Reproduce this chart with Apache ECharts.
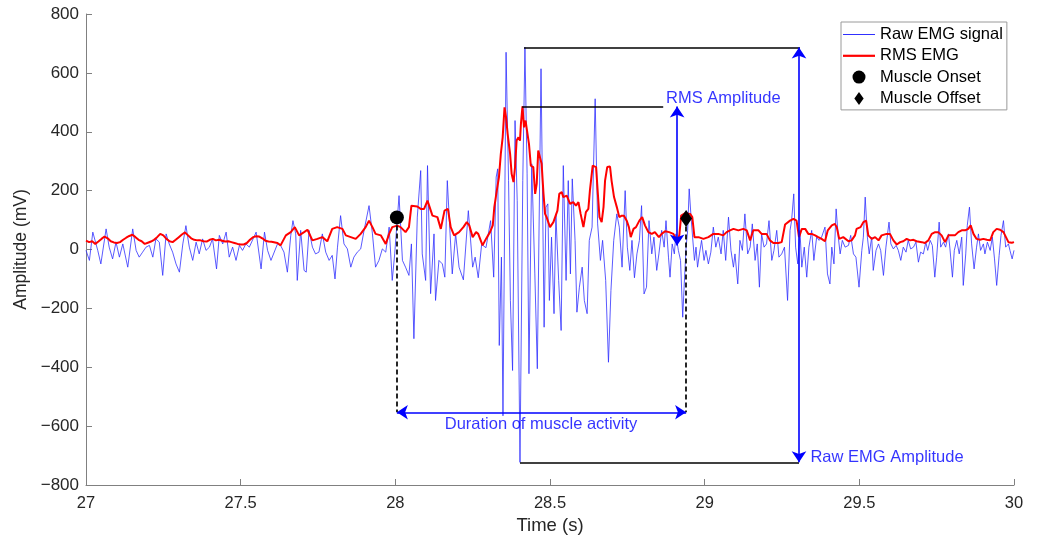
<!DOCTYPE html>
<html><head><meta charset="utf-8">
<script src="https://cdn.jsdelivr.net/npm/echarts/dist/echarts.min.js"></script>
<style>html,body{margin:0;padding:0;background:#fff}#c{width:1037px;height:535px}</style>
</head><body><div id="c"></div>
<script>
// ---------- DATA ----------
const xTickLabels = [27, 27.5, 28, 28.5, 29, 29.5, 30];
const yTickLabels = [-800, -600, -400, -200, 0, 200, 400, 600, 800];

// Raw EMG signal [time s, amplitude mV]
const rawEmg = [
[27.000,-3],[27.011,-37],[27.022,59],[27.038,-3],[27.048,-49],[27.065,70],[27.075,8],[27.086,-32],[27.097,25],[27.108,-26],[27.119,19],[27.135,-60],[27.151,70],[27.162,-3],[27.172,-26],[27.183,-9],[27.194,8],[27.205,14],[27.216,-26],[27.226,36],[27.237,25],[27.248,-88],[27.259,53],[27.269,19],[27.280,-9],[27.291,-49],[27.302,-77],[27.313,19],[27.323,81],[27.334,8],[27.345,-37],[27.356,25],[27.366,-15],[27.377,36],[27.388,-3],[27.399,8],[27.409,36],[27.422,-66],[27.431,48],[27.442,19],[27.453,59],[27.463,-26],[27.474,8],[27.485,-37],[27.496,14],[27.506,-3],[27.517,19],[27.528,8],[27.550,59],[27.566,-66],[27.577,59],[27.587,-3],[27.598,-37],
[27.619,19],[27.629,14],[27.640,-9],[27.651,-77],[27.662,48],[27.669,98],[27.678,53],[27.683,-105],[27.694,65],[27.705,-71],[27.712,-77],[27.721,65],[27.732,8],[27.742,-15],[27.753,-9],[27.764,53],[27.775,-9],[27.786,-37],[27.796,-20],[27.805,-100],[27.813,8],[27.823,115],[27.834,19],[27.845,2],[27.856,-60],[27.866,-26],[27.877,-9],[27.888,2],[27.899,65],[27.915,149],[27.926,53],[27.936,-60],[27.947,-37],[27.958,2],[27.969,-9],[27.980,76],[27.990,-105],[27.998,-15],[28.012,183],[28.023,-37],[28.033,-60],[28.044,-88],[28.052,19],[28.060,-303],[28.071,110],[28.082,268],[28.087,-15],[28.098,-105],[28.104,285],[28.114,-150],[28.125,53],[28.130,-173],[28.141,-37],[28.152,-49],[28.160,-94],[28.168,234],[28.177,53],[28.184,-83],[28.195,53],[28.206,-60],
[28.220,-103],[28.236,132],[28.250,-60],[28.258,-26],[28.268,-96],[28.279,17],[28.293,6],[28.308,98],[28.318,-94],[28.326,246],[28.331,274],[28.336,-326],[28.343,-26],[28.348,-565],[28.358,670],[28.366,234],[28.372,-173],[28.379,-411],[28.387,438],[28.394,166],[28.403,-723],[28.412,234],[28.419,687],[28.426,257],[28.432,-422],[28.441,291],[28.451,-83],[28.459,-405],[28.471,614],[28.481,-264],[28.487,144],[28.493,155],[28.498,-173],[28.505,42],[28.513,-218],[28.519,121],[28.528,-105],[28.536,-275],[28.543,285],[28.552,-105],[28.559,234],[28.566,-83],[28.572,240],[28.581,31],[28.587,-213],[28.595,-128],[28.604,-60],[28.611,-173],[28.620,-218],[28.627,31],[28.636,76],[28.646,512],[28.654,87],[28.663,-37],[28.670,31],[28.680,-105],[28.689,-383],[28.697,-139],[28.706,31],[28.716,121],[28.724,76],[28.733,-60],[28.743,200],[28.750,8],[28.758,-71],[28.765,31],[28.773,-96],[28.781,-15],[28.789,31],[28.796,149],[28.804,-151],
[28.812,-128],[28.820,98],[28.829,-15],[28.836,42],[28.845,-71],[28.852,-15],[28.861,65],[28.869,8],[28.875,98],[28.883,-26],[28.888,-94],[28.895,19],[28.902,-15],[28.907,53],[28.915,-3],[28.922,-37],[28.929,-230],[28.934,-117],[28.940,8],[28.945,65],[28.950,206],[28.956,110],[28.961,42],[28.967,-37],[28.972,8],[28.977,-60],[28.983,-15],[28.990,31],[28.998,-37],[29.004,-3],[29.012,-49],[29.020,-9],[29.028,76],[29.036,8],[29.044,42],[29.053,-15],[29.060,65],[29.068,-37],[29.077,110],[29.085,-3],[29.093,-60],[29.098,-15],[29.107,-117],[29.114,31],[29.122,-3],[29.130,121],[29.139,-15],[29.147,8],[29.154,87],[29.163,-37],[29.170,19],[29.177,-128],[29.184,53],[29.192,8],[29.200,19],[29.208,98],[29.217,-37],[29.224,-3],[29.233,65],[29.240,-26],[29.249,-15],[29.258,8],[29.268,-173],[29.276,65],[29.281,98],[29.288,189],[29.294,8],[29.301,-49],[29.308,65],[29.314,-60],[29.322,8],[29.330,-94],[29.337,8],[29.346,65],[29.353,-37],[29.362,42],[29.370,31],[29.378,42],[29.389,76],[29.397,-83],[29.405,-117],[29.411,8],[29.418,-49],
[29.425,138],[29.432,42],[29.438,-15],[29.445,31],[29.454,8],[29.465,14],[29.472,48],[29.481,-15],[29.489,-26],[29.499,-128],[29.508,-3],[29.513,42],[29.519,178],[29.526,42],[29.532,-15],[29.540,42],[29.545,-71],[29.554,-3],[29.562,19],[29.569,-3],[29.578,-88],[29.586,8],[29.596,93],[29.602,19],[29.610,2],[29.619,14],[29.626,-3],[29.634,-37],[29.642,8],[29.651,-9],[29.658,31],[29.666,2],[29.675,8],[29.683,25],[29.691,-43],[29.698,-9],[29.707,-15],[29.715,25],[29.721,-3],[29.729,31],[29.736,14],[29.744,-94],[29.750,-26],[29.758,93],[29.763,8],[29.772,25],[29.779,8],[29.788,53],[29.793,2],[29.801,-94],[29.807,-3],[29.815,31],[29.823,-15],[29.831,42],[29.836,-122],[29.844,-15],[29.849,82],[29.856,144],[29.863,19],[29.871,-66],[29.879,8],[29.885,53],[29.892,-3],[29.901,19],[29.906,-15],[29.914,25],[29.923,-3],[29.930,42],[29.937,-32],[29.944,-122],[29.952,-20],[29.958,48],[29.966,98],[29.973,8],[29.982,19],[29.987,-3],[29.994,-32],[30.000,-3]
];

// RMS EMG envelope [time s, amplitude mV]
const rmsEmg = [
[27.00,30],[27.01,25],[27.02,28],[27.03,19],[27.04,27],[27.05,36],[27.06,44],[27.07,38],[27.08,28],[27.09,24],[27.10,22],[27.11,25],[27.12,33],[27.13,40],[27.14,46],[27.15,50],[27.16,42],[27.17,33],[27.18,28],[27.19,19],[27.20,23],[27.21,27],[27.22,33],[27.23,42],[27.24,53],[27.25,48],[27.26,36],[27.27,28],[27.28,25],[27.29,33],[27.30,42],[27.31,51],[27.32,58],[27.33,48],[27.34,38],[27.35,33],[27.36,31],[27.37,31],[27.38,28],[27.39,27],[27.40,33],[27.41,36],[27.42,31],[27.43,33],[27.44,30],[27.45,27],[27.46,28],[27.47,25],[27.48,22],[27.49,19],[27.50,17],[27.51,17],[27.52,22],[27.53,33],[27.54,42],[27.55,45],[27.56,44],[27.57,38],[27.58,30],[27.59,27],[27.60,26],
[27.619,22],[27.629,14],[27.646,48],[27.662,59],[27.675,76],[27.689,48],[27.705,59],[27.716,67],[27.732,31],[27.748,36],[27.764,42],[27.780,28],[27.796,70],[27.812,76],[27.829,70],[27.840,48],[27.856,42],[27.872,36],[27.888,53],[27.904,76],[27.915,98],[27.926,76],[27.936,53],[27.953,48],[27.969,19],[27.980,53],[27.990,76],[28.006,81],[28.017,76],[28.033,59],[28.044,76],[28.052,149],[28.071,146],[28.082,138],[28.093,138],[28.104,166],[28.109,172],[28.120,115],[28.136,110],[28.147,70],[28.159,132],[28.170,138],[28.179,76],[28.190,48],[28.206,59],
[28.220,76],[28.231,93],[28.239,82],[28.250,42],[28.261,59],[28.268,53],[28.282,14],[28.293,36],[28.306,59],[28.315,82],[28.320,144],[28.328,200],[28.335,246],[28.341,325],[28.347,381],[28.353,483],[28.358,449],[28.363,393],[28.371,325],[28.376,257],[28.382,229],[28.387,280],[28.392,370],[28.398,381],[28.403,370],[28.406,427],[28.411,486],[28.416,415],[28.421,438],[28.427,444],[28.432,359],[28.438,285],[28.446,280],[28.452,189],[28.457,223],[28.462,336],[28.468,342],[28.473,291],[28.479,189],[28.484,121],[28.489,110],[28.500,76],[28.511,93],[28.524,132],[28.530,189],[28.538,195],[28.543,178],[28.554,183],[28.565,155],[28.575,161],[28.584,149],[28.592,161],[28.599,121],[28.608,76],[28.616,127],[28.624,138],[28.629,200],[28.638,285],[28.649,280],[28.654,200],[28.660,110],[28.667,93],[28.673,144],[28.678,234],[28.685,280],[28.694,282],[28.699,234],[28.707,178],[28.716,144],[28.724,110],[28.732,115],[28.739,115],[28.748,98],[28.755,76],[28.761,42],[28.770,70],[28.778,76],[28.789,98],[28.798,110],
[28.807,82],[28.818,59],[28.829,53],[28.839,59],[28.852,42],[28.861,53],[28.872,62],[28.885,59],[28.899,53],[28.910,31],[28.918,48],[28.924,115],[28.936,123],[28.953,121],[28.960,110],[28.967,42],[28.980,42],[28.996,36],[29.012,42],[29.028,53],[29.044,53],[29.060,48],[29.071,59],[29.082,65],[29.093,70],[29.109,65],[29.125,70],[29.136,65],[29.147,31],[29.157,65],[29.174,65],[29.184,53],[29.200,53],[29.211,31],[29.222,22],[29.238,22],[29.249,25],[29.260,85],[29.276,98],[29.287,104],[29.297,98],[29.305,42],[29.314,70],[29.325,70],[29.335,53],[29.346,53],[29.357,48],[29.367,42],[29.378,36],[29.389,28],[29.398,65],[29.411,82],[29.421,87],
[29.427,76],[29.435,36],[29.448,42],[29.465,28],[29.475,31],[29.486,48],[29.491,70],[29.504,76],[29.513,93],[29.522,98],[29.529,48],[29.540,36],[29.551,42],[29.562,31],[29.572,48],[29.588,53],[29.599,53],[29.610,31],[29.621,17],[29.632,25],[29.642,28],[29.653,36],[29.664,31],[29.675,33],[29.685,28],[29.702,25],[29.712,22],[29.723,31],[29.734,53],[29.745,59],[29.755,59],[29.766,48],[29.777,25],[29.788,48],[29.799,48],[29.809,48],[29.820,59],[29.831,65],[29.842,65],[29.852,70],[29.860,82],[29.869,53],[29.879,36],[29.890,33],[29.901,36],[29.912,33],[29.923,31],[29.933,59],[29.944,70],[29.955,67],[29.966,59],[29.974,42],[29.982,25],[29.993,23],[30.000,25]
];

const muscleOnset = [[28.005, 109]];
const muscleOffset = [[28.940, 105]];

// annotation segments, in data units
const blackLines = [
  [[28.410, 486], [28.866, 486]],
  [[28.416, 686], [29.308, 686]],
  [[28.403, -723], [29.305, -723]]
];
const blueArrows = [
  [[28.911, 14], [28.911, 486]],
  [[29.305, -723], [29.305, 686]],
  [[28.005, -553], [28.940, -553]]
];
const dashedLines = [
  [[28.005, 109], [28.005, -553]],
  [[28.940, 105], [28.940, -553]]
];
const annotTexts = [
  {pos: [28.875, 514], text: 'RMS Amplitude', align: 'left'},
  {pos: [28.471, -594], text: 'Duration of muscle activity', align: 'center'},
  {pos: [29.342, -708], text: 'Raw EMG Amplitude', align: 'left'}
];

// ---------- CHART ----------
const FONT = '"Liberation Sans", Arial, Helvetica, sans-serif';
const chart = echarts.init(document.getElementById('c'), null, {renderer: 'canvas'});
const segs = arr => arr.map(s => [{coord: s[0]}, {coord: s[1]}]);
const minus = v => String(v).replace('-', '\u2212');
const BLUE = '#3030ff';

chart.setOption({
  animation: false,
  backgroundColor: '#fff',
  textStyle: {fontFamily: FONT},
  grid: {left: 86, right: 23, top: 14, bottom: 50, containLabel: false, outerBoundsMode: 'none'},
  legend: {
    data: [
      {name: 'Raw EMG signal', icon: 'path://M0 0H32V1H0Z',
        itemStyle: {color: BLUE, borderColor: BLUE, borderWidth: 0}},
      {name: 'RMS EMG', icon: 'path://M0 0H32V2.2H0Z',
        itemStyle: {color: '#ff0000', borderWidth: 0}},
      {name: 'Muscle Onset', icon: 'circle'},
      {name: 'Muscle Offset', icon: 'path://M5 0L10 7L5 14L0 7Z'}
    ],
    orient: 'vertical', left: 841, top: 22,
    padding: [4, 4, 3, 2], itemGap: 4.3, itemWidth: 32, itemHeight: 13,
    symbolKeepAspect: true,
    borderColor: '#9a9a9a', borderWidth: 1, backgroundColor: '#fff',
    textStyle: {fontSize: 16.5, color: '#000', fontFamily: FONT},
    selectedMode: false
  },
  xAxis: {
    type: 'value', min: 27, max: 30, interval: 0.5,
    name: 'Time (s)', nameLocation: 'middle', nameGap: 26,
    nameTextStyle: {fontSize: 18.5, color: '#262626', fontFamily: FONT},
    axisLine: {onZero: false, lineStyle: {color: '#808080', width: 1}},
    axisTick: {inside: true, length: 6, lineStyle: {color: '#808080'}},
    axisLabel: {fontSize: 16.5, color: '#262626', margin: 10, fontFamily: FONT,
      formatter: v => xTickLabels.includes(v) ? String(v) : ''},
    splitLine: {show: false}
  },
  yAxis: {
    type: 'value', min: -800, max: 800, interval: 200,
    name: 'Amplitude (mV)', nameLocation: 'middle', nameGap: 50,
    nameTextStyle: {fontSize: 17.5, color: '#262626', fontFamily: FONT},
    axisLine: {show: true, onZero: false, lineStyle: {color: '#808080', width: 1}},
    axisTick: {show: true, inside: true, length: 6, lineStyle: {color: '#808080'}},
    axisLabel: {fontSize: 17, color: '#262626', margin: 7, fontFamily: FONT,
      formatter: v => yTickLabels.includes(v) ? minus(v) : ''},
    splitLine: {show: false}
  },
  series: [
    {
      name: 'Raw EMG signal', type: 'line', data: rawEmg, symbol: 'none',
      lineStyle: {color: BLUE, width: 0.8}, itemStyle: {color: BLUE},
      z: 2
    },
    {
      name: 'RMS EMG', type: 'line', data: rmsEmg, symbol: 'none',
      lineStyle: {color: '#ff0000', width: 2}, itemStyle: {color: '#ff0000'},
      z: 3
    },
    {
      name: 'annotations', type: 'line', data: [], symbol: 'none', z: 4,
      markLine: {
        silent: true, animation: false, label: {show: false},
        symbol: ['none', 'none'],
        lineStyle: {color: '#000', width: 1.5, type: 'solid'},
        data: segs(blackLines)
      }
    },
    {
      name: 'dashes', type: 'line', data: [], symbol: 'none', z: 4,
      markLine: {
        silent: true, animation: false, label: {show: false},
        symbol: ['none', 'none'],
        lineStyle: {color: '#000', width: 1.7, type: [5, 3]},
        data: segs(dashedLines)
      }
    },
    {
      name: 'arrows', type: 'line', data: [], symbol: 'none', z: 5,
      markLine: {
        silent: true, animation: false, label: {show: false},
        symbol: ['arrow', 'arrow'], symbolSize: 11,
        lineStyle: {color: '#0000ff', width: 1.6, type: 'solid'},
        itemStyle: {color: '#0000ff'},
        data: segs(blueArrows)
      }
    },
    {
      name: 'Muscle Onset', type: 'scatter', data: muscleOnset,
      symbol: 'circle', symbolSize: 14, itemStyle: {color: '#000', opacity: 1}, z: 6
    },
    {
      name: 'Muscle Offset', type: 'scatter', data: muscleOffset,
      symbol: 'diamond', symbolSize: [12, 17], itemStyle: {color: '#000', opacity: 1}, z: 6
    },
    {
      name: 'texts', type: 'scatter', symbolSize: 0, z: 7, silent: true,
      data: annotTexts.map(a => ({
        value: a.pos, name: a.text,
        label: {show: true, position: 'inside', formatter: '{b}', align: a.align,
          verticalAlign: 'middle', color: '#0000ff', fontSize: 16.5, fontFamily: FONT}
      }))
    }
  ]
});
</script>
</body></html>
